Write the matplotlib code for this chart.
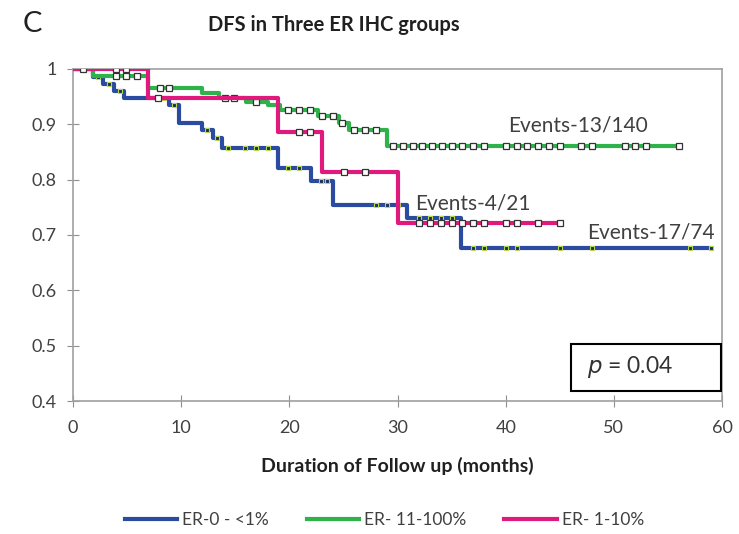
# DFS 生存曲线（三组 ER IHC）
import numpy as np
import matplotlib
matplotlib.use('Agg')
import matplotlib.pyplot as plt
from matplotlib.patches import Rectangle

plt.rcParams['font.family'] = ['Lato', 'DejaVu Sans']

# ER-0 - <1%  (Events-17/74)
blue_t = [0, 1.8, 2.8, 3.8, 4.7, 8.9, 9.8, 11.9, 12.9, 13.8, 18.9, 22, 24, 30.9, 35.9]
blue_s = [1.0, 0.986, 0.973, 0.96, 0.947, 0.935, 0.902, 0.89, 0.875, 0.857, 0.821, 0.797, 0.754, 0.73, 0.676]
blue_end = 59
blue_cens = [2.3, 3.3, 4.3, 8.4, 9.3, 12.4, 13.3, 14.3, 15.9, 16.9, 18, 19.9, 20.9, 22.9, 23.5,
             28, 29, 30, 32, 33, 34, 35, 37, 38, 40, 41, 45, 48, 57, 59]

# ER- 11-100%  (Events-13/140)
green_t = [0, 1.8, 6.9, 11.9, 13.5, 16, 18, 19.1, 22.6, 24.6, 25.5, 29]
green_s = [1.0, 0.987, 0.965, 0.957, 0.948, 0.94, 0.934, 0.926, 0.914, 0.902, 0.89, 0.861]
green_end = 56
green_cens = [4, 4.9, 5.9, 8, 8.9, 14, 14.9, 16.9, 19.9, 20.9, 21.9, 23, 24, 24.9, 26, 27, 28,
              29.6, 30.5, 31.4, 32.3, 33.2, 34.1, 35, 36, 37, 38, 40, 41, 42, 43, 44, 45,
              47, 48, 51, 52, 53, 56]

# ER- 1-10%  (Events-4/21)
mag_t = [0, 6.9, 18.9, 23, 30]
mag_s = [1.0, 0.948, 0.886, 0.813, 0.722]
mag_end = 45
mag_cens = [0.9, 4, 4.9, 7.8, 20.9, 21.9, 25, 27, 32, 33, 34, 35, 36, 37, 38, 40, 41, 43, 45]

events = ['Events-17/74', 'Events-13/140', 'Events-4/21']
labels = ['ER-0 - <1%', 'ER- 11-100%', 'ER- 1-10%']
colors = ['#2a4b9f', '#2db34a', '#e0197d']


def surv_at(t, s, x):
    i = np.searchsorted(np.array(t), np.array(x), side='right') - 1
    return np.array(s)[i]


fig = plt.figure(figsize=(7.39, 5.34), dpi=100)
ax = fig.add_axes([0.099, 0.249, 0.878, 0.622])

groups = [(blue_t, blue_s, blue_end, blue_cens),
          (green_t, green_s, green_end, green_cens),
          (mag_t, mag_s, mag_end, mag_cens)]

for k, (t, s, end, cens) in enumerate(groups):
    tt = list(t) + [end]
    ss = list(s) + [s[-1]]
    ax.step(tt, ss, where='post', color=colors[k], lw=3, label=labels[k], zorder=2 + k)
    cy = surv_at(t, s, cens)
    if k == 0:
        ax.plot(cens, cy, 's', ms=3.5, mfc='#1c2c5e', mec='#b8d94a', mew=0.8, zorder=2 + k)
    else:
        ax.plot(cens, cy, 's', ms=4, mfc='white', mec='#333333', mew=0.9, zorder=2 + k)

ax.text(46.7, 0.898, events[1], fontsize=15, color='#404040', ha='center', va='center')
ax.text(31.6, 0.756, events[2], fontsize=15, color='#404040', ha='left', va='center')
ax.text(53.4, 0.705, events[0], fontsize=15, color='#404040', ha='center', va='center')

ax.add_patch(Rectangle((0.767, 0.03), 0.231, 0.143, transform=ax.transAxes,
                       fill=False, ec='black', lw=1.5, zorder=6))
ax.text(0.858, 0.102, r'$\it{p}$ = 0.04', transform=ax.transAxes, fontsize=16.5,
        color='#333333', ha='center', va='center', zorder=7)

ax.set_xlim(0, 60)
ax.set_ylim(0.4, 1.0)
ax.set_xticks(np.arange(0, 61, 10))
ax.set_yticks(np.arange(0.4, 1.01, 0.1))
ax.set_yticklabels(['0.4', '0.5', '0.6', '0.7', '0.8', '0.9', '1'])
ax.tick_params(direction='inout', length=8, color='#909090', labelsize=13,
               labelcolor='#404040')
ax.tick_params(axis='x', pad=10)
ax.tick_params(axis='y', pad=8)
for sp in ax.spines.values():
    sp.set_color('#a0a0a0')
    sp.set_linewidth(1.2)

ax.set_xlabel('Duration of Follow up (months)', fontsize=14, fontweight='bold',
              color='#202020', labelpad=15)

fig.text(0.452, 0.953, 'DFS in Three ER IHC groups', fontsize=14.5, fontweight='bold',
         color='#202020', ha='center', va='center')
fig.text(0.03, 0.955, 'C', fontsize=21, color='#202020', ha='left', va='center')

fig.legend(loc='center', bbox_to_anchor=(0.52, 0.026), ncol=3, frameon=False,
           fontsize=12.5, handlelength=3.0, handletextpad=0.3, columnspacing=2.2,
           labelcolor='#404040')

fig.savefig('out.png', dpi=100)
